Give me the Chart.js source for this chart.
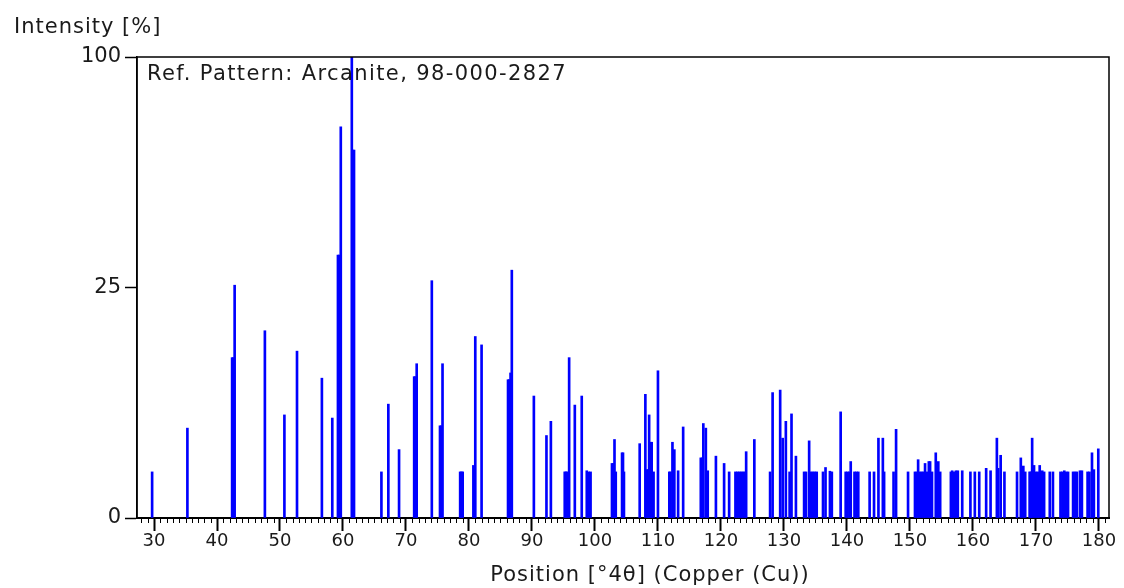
<!DOCTYPE html>
<html>
<head>
<meta charset="utf-8">
<script src="https://cdn.jsdelivr.net/npm/chart.js@4.4.1/dist/chart.umd.min.js"></script>
<style>
  html, body { margin: 0; padding: 0; background: #fff; }
  #wrap { width: 1124px; height: 588px; position: relative; }
</style>
</head>
<body>
<div id="wrap"><canvas id="c" width="1124" height="588"></canvas></div>
<script>
// Peak positions (°) and relative intensities (%)
const positions = [
  29.7, 35.3, 42.4, 42.6, 42.8, 47.6, 50.7, 52.7, 56.65, 58.3,
  59.2, 59.4, 59.65, 61.4, 61.6, 61.75, 66.1, 67.2, 68.9, 71.3,
  71.5, 71.7, 74.1, 75.4, 75.6, 75.8, 78.6, 78.8, 79.0, 80.7,
  81.0, 82.0, 86.2, 86.4, 86.6, 86.8, 90.3, 92.3, 93.0, 95.2,
  95.4, 95.6, 95.9, 96.8, 97.9, 98.7, 99.0, 99.3,
  102.7, 102.9, 103.1, 103.3, 104.3, 104.45, 104.6, 107.1, 108.0, 108.3,
  108.45, 108.6, 108.85, 109.0, 109.3, 110.0, 111.8, 112.0, 112.3, 112.6,
  113.2, 114.0, 116.8, 117.0, 117.2, 117.6, 117.9, 119.2, 120.5, 121.3,
  122.3, 122.6, 122.9, 123.2, 123.5, 123.8, 124.0, 125.3, 127.8, 128.2,
  129.4, 129.8, 130.3, 130.9, 131.2, 131.9, 133.2, 133.5, 134.0, 134.3,
  134.6, 134.9, 135.2, 136.2, 136.6, 137.3, 137.6, 139.0, 139.8, 140.1,
  140.4, 140.6, 141.2, 141.5, 141.8, 143.6, 144.3, 145.0, 145.7, 145.9,
  147.4, 147.8, 149.7, 150.8, 151.1, 151.3, 151.6, 151.9, 152.2, 152.4,
  152.7, 153.0, 153.2, 153.5, 154.1, 154.5, 154.8, 156.5, 156.7, 157.0,
  157.3, 157.6, 158.3, 159.6, 160.3, 161.0, 162.1, 162.8, 163.8, 164.0,
  164.4, 165.0, 167.0, 167.6, 168.0, 168.3, 169.0, 169.2, 169.4, 169.7,
  170.0, 170.3, 170.6, 171.0, 171.3, 172.2, 172.7, 173.9, 174.2, 174.5,
  174.8, 175.1, 175.9, 176.2, 176.5, 177.0, 177.3, 178.2, 178.5, 178.9,
  179.2, 179.9
];
const intensities = [
  1.0, 3.8, 12.1, 12.1, 25.5, 16.5, 5.0, 13.1, 9.2, 4.7,
  32.5, 32.5, 72.0, 100, 63.7, 63.7, 1.0, 6.1, 2.2, 9.4,
  9.4, 11.2, 26.5, 4.0, 4.0, 11.2, 1.0, 1.0, 1.0, 1.3,
  15.5, 14.1, 9.0, 9.0, 9.9, 28.9, 7.0, 3.2, 4.4, 1.0,
  1.0, 1.0, 12.1, 6.0, 7.0, 1.05, 1.0, 1.0,
  1.4, 1.4, 2.9, 1.0, 2.0, 2.0, 1.0, 2.6, 7.2, 1.1,
  1.1, 5.0, 2.7, 2.7, 1.0, 10.2, 1.0, 1.0, 2.7, 2.2,
  1.05, 3.9, 1.7, 1.7, 4.2, 3.8, 1.05, 1.8, 1.4, 1.0,
  1.0, 1.0, 1.0, 1.0, 1.0, 1.0, 2.07, 2.9, 1.0, 7.4,
  7.7, 3.0, 4.4, 1.0, 5.1, 1.8, 1.0, 1.0, 2.8, 1.0,
  1.0, 1.0, 1.0, 1.0, 1.2, 1.03, 1.0, 5.3, 1.0, 1.0,
  1.0, 1.5, 1.0, 1.0, 1.0, 1.0, 1.0, 3.0, 3.0, 1.0,
  1.0, 3.7, 1.0, 1.0, 1.0, 1.6, 1.0, 1.0, 1.0, 1.4,
  1.0, 1.5, 1.5, 1.0, 2.0, 1.5, 1.0, 1.0, 1.05, 1.0,
  1.05, 1.05, 1.05, 1.0, 1.0, 1.0, 1.16, 1.05, 3.0, 1.16,
  1.85, 1.0, 1.0, 1.7, 1.27, 1.0, 1.0, 1.0, 3.0, 1.3,
  1.0, 1.0, 1.3, 1.05, 1.0, 1.0, 1.0, 1.0, 1.0, 1.05,
  1.0, 1.0, 1.0, 1.0, 1.0, 1.05, 1.05, 1.0, 1.0, 2.0,
  1.1, 2.25
];
const xTickLabels = [30, 40, 50, 60, 70, 80, 90, 100, 110, 120, 130, 140, 150, 160, 170, 180];
const yTickLabels = [0, 25, 100];
const xRange = [27.3, 181.6];
const yMax = 100;
const titleText = 'Ref. Pattern: Arcanite, 98-000-2827';
const yAxisText = 'Intensity [%]';
const xAxisText = 'Position [°4θ] (Copper (Cu))';

const FONT = '"DejaVu Sans", Verdana, sans-serif';

const framePlugin = {
  id: 'frame',
  afterDraw(chart) {
    const { ctx, chartArea: a, scales } = chart;
    ctx.save();
    // frame
    ctx.strokeStyle = '#000';
    ctx.lineWidth = 1.5;
    ctx.beginPath();
    ctx.moveTo(a.left, a.bottom);
    ctx.lineTo(a.left, a.top);
    ctx.lineTo(a.right, a.top);
    ctx.lineTo(a.right, a.bottom);
    ctx.stroke();
    // minor ticks
    const xs = scales.x;
    ctx.lineWidth = 1;
    ctx.beginPath();
    for (let v = Math.ceil(xRange[0]); v <= Math.floor(xRange[1]); v++) {
      if (v % 10 === 0) continue;
      const px = Math.round(xs.getPixelForValue(v)) + 0.5;
      ctx.moveTo(px, a.bottom);
      ctx.lineTo(px, a.bottom + 5);
    }
    ctx.stroke();
    // texts
    ctx.fillStyle = '#1a1a1a';
    ctx.font = '21px ' + FONT;
    ctx.textBaseline = 'middle';
    ctx.textAlign = 'left';
    try { ctx.letterSpacing = '1.4px'; } catch (e) {}
    ctx.fillText(titleText, a.left + 10, a.top + 18);
    try { ctx.letterSpacing = '1px'; } catch (e) {}
    ctx.fillText(yAxisText, 14, 28);
    ctx.textAlign = 'center';
    ctx.fillText(xAxisText, 650, 576);
    ctx.restore();
  }
};

new Chart(document.getElementById('c'), {
  type: 'bar',
  data: {
    datasets: [{
      data: positions.map((p, i) => ({ x: p, y: Math.sqrt(intensities[i]) })),
      backgroundColor: '#0000ff',
      borderWidth: 0,
      barThickness: 2,
      grouped: false
    }]
  },
  options: {
    responsive: false,
    animation: false,
    devicePixelRatio: 1,
    layout: { padding: { left: 0, right: 15, top: 57, bottom: 0 } },
    plugins: { legend: { display: false }, tooltip: { enabled: false }, title: { display: false } },
    scales: {
      x: {
        type: 'linear',
        min: xRange[0],
        max: xRange[1],
        offset: false,
        afterBuildTicks: (s) => { s.ticks = xTickLabels.map(v => ({ value: v })); },
        afterFit: (s) => { s.height = 70; },
        grid: { display: true, offset: false, drawOnChartArea: false, drawTicks: true, tickLength: 13, tickWidth: 2, tickColor: '#000' },
        border: { display: true, color: '#000', width: 2 },
        ticks: { color: '#1a1a1a', font: { family: FONT, size: 18 }, padding: 0, maxRotation: 0, autoSkip: false }
      },
      y: {
        type: 'linear',
        min: 0,
        max: Math.sqrt(yMax),
        afterBuildTicks: (s) => { s.ticks = yTickLabels.map(v => ({ value: Math.sqrt(v) })); },
        afterFit: (s) => { s.width = 137; },
        grid: { display: true, drawOnChartArea: false, drawTicks: true, tickLength: 12, tickWidth: 1.5, tickColor: '#000' },
        border: { display: true, color: '#000', width: 1.5 },
        ticks: {
          color: '#1a1a1a', font: { family: FONT, size: 21 }, padding: 4,
          callback: (v) => String(Math.round(v * v))
        }
      }
    }
  },
  plugins: [framePlugin]
});
</script>
</body>
</html>
